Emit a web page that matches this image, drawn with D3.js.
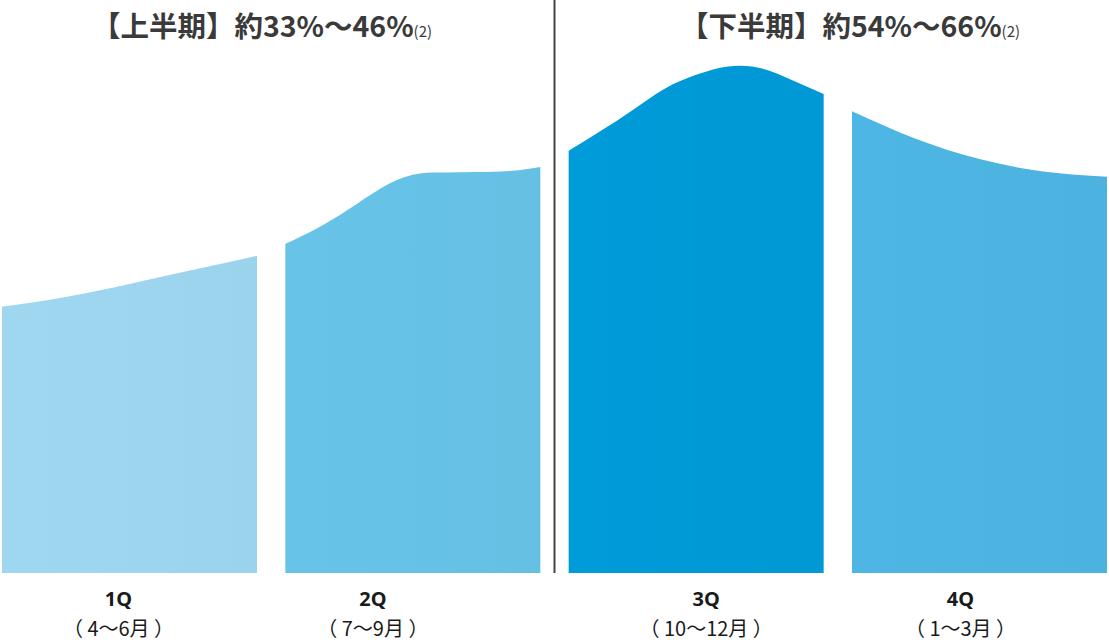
<!DOCTYPE html>
<html><head><meta charset="utf-8">
<script src="https://cdn.jsdelivr.net/npm/d3@7"></script>
<style>
html,body{margin:0;padding:0;background:#fff;}
svg{display:block;}
</style></head>
<body>
<svg id="chart" width="1109" height="642"></svg>
<script>
// ---- data ----
const quarters = ["1Q", "2Q", "3Q", "4Q"];
const monthLabels = ["（ 4～6月 ）", "（ 7～9月 ）", "（ 10～12月 ）", "（ 1～3月 ）"];
const halfTitles = ["【上半期】約33%～46%", "【下半期】約54%～66%"];
const halfNote = "(2)";
// relative position within each quarter (0..1) and curve height (index)
const q1Pos = [0, 0.25, 0.5, 0.75, 1];
const q1Val = [51.2, 53.1, 55.6, 58.3, 61.0];
const q2Pos = [0, 0.125, 0.25, 0.375, 0.5, 0.625, 0.75, 0.875, 1];
const q2Val = [63.3, 66.3, 70.0, 74.0, 76.6, 77.0, 77.1, 77.3, 78.1];
const q3Pos = [0, 0.125, 0.25, 0.375, 0.5, 0.625, 0.75, 0.875, 1];
const q3Val = [81.2, 85.0, 89.0, 93.1, 95.8, 97.4, 97.1, 94.8, 92.1];
const q4Pos = [0, 0.25, 0.5, 0.75, 1];
const q4Val = [88.8, 83.5, 79.6, 77.2, 76.2];
const colors = ["#9dd5ee", "#66c1e6", "#0099d7", "#4db4e2"];

const series = [
  {q: quarters[0], pos: q1Pos, val: q1Val},
  {q: quarters[1], pos: q2Pos, val: q2Val},
  {q: quarters[2], pos: q3Pos, val: q3Val},
  {q: quarters[3], pos: q4Pos, val: q4Val}
];

const svg = d3.select("#chart");
const baseY = 573;
const x = d3.scaleBand().domain(quarters).range([2, 1107]).paddingInner(0.1).paddingOuter(0);
const y = d3.scaleLinear().domain([0, 100]).range([baseY, 53]);

const defs = svg.append("defs");
series.forEach((s, i) => {
  const c = d3.color(colors[i]);
  const g = defs.append("linearGradient").attr("id", "g" + i).attr("x1", "0").attr("x2", "1").attr("y1", "0").attr("y2", "0");
  g.append("stop").attr("offset", "0").attr("stop-color", c.brighter(0.03).formatHex());
  g.append("stop").attr("offset", "1").attr("stop-color", c.darker(0.02).formatHex());
});

series.forEach((s, i) => {
  const x0 = x(s.q), w = x.bandwidth();
  const xi = d3.scaleLinear().domain([0, 1]).range([x0, x0 + w]);
  const pts = s.pos.map((p, k) => [p, s.val[k]]);
  const area = d3.area()
    .x(d => xi(d[0]))
    .y0(y(0))
    .y1(d => y(d[1]))
    .curve(d3.curveNatural);
  svg.append("path").attr("d", area(pts)).attr("fill", `url(#g${i})`);
});

// divider between halves
const divX = (x("2Q") + x.bandwidth() + x("3Q")) / 2;
svg.append("line").attr("x1", divX).attr("x2", divX).attr("y1", 0).attr("y2", baseY)
  .attr("stroke", "#444").attr("stroke-width", 2);

// half titles
const titleX = [262, 850];
halfTitles.forEach((t, i) => {
  const tx = svg.append("text").attr("x", titleX[i]).attr("y", 37)
    .attr("text-anchor", "middle")
    .attr("font-family", "'Noto Sans CJK JP', 'Noto Sans', sans-serif")
    .attr("fill", "#3a3a3a");
  tx.append("tspan").attr("font-size", 28.5).attr("font-weight", 700).text(t);
  tx.append("tspan").attr("font-size", 15).attr("font-weight", 400).text(halfNote);
});

// quarter labels
const labelOffset = [-11, -40, 10, -19];
quarters.forEach((q, i) => {
  const cx = x(q) + x.bandwidth() / 2 + labelOffset[i];
  svg.append("text").attr("x", cx).attr("y", 606).attr("text-anchor", "middle")
    .attr("font-family", "'Noto Sans', 'Noto Sans CJK JP', sans-serif")
    .attr("font-weight", 700).attr("font-size", 20).attr("fill", "#1a1a1a").text(q);
  svg.append("text").attr("x", cx).attr("y", 636).attr("text-anchor", "middle")
    .attr("font-family", "'Noto Sans CJK JP', sans-serif")
    .attr("font-weight", 400).attr("font-size", 20).attr("fill", "#1a1a1a").text(monthLabels[i]);
});
</script>
</body></html>
